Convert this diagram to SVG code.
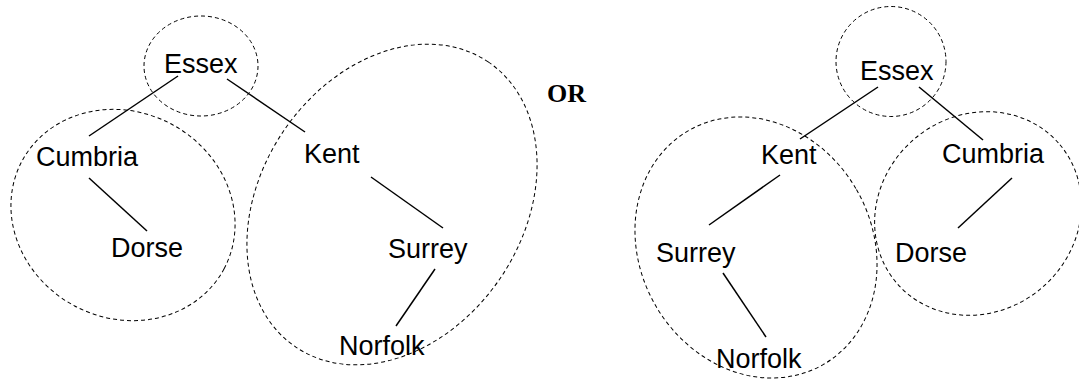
<svg xmlns="http://www.w3.org/2000/svg" width="1079" height="379" viewBox="0 0 1079 379">
  <style>
    .bg { fill: #ffffff; }
    .group { fill: none; stroke: #000; stroke-width: 1; stroke-dasharray: 4 3; }
    .edge { stroke: #000; stroke-width: 1.5; stroke-linecap: butt; }
    .label { font-family: "Liberation Sans", Arial, sans-serif; font-size: 27px; fill: #000; }
    .or { font-family: "Liberation Serif", "Times New Roman", serif; font-size: 26px; font-weight: bold; fill: #000; }
  </style>
  <rect class="bg" x="0" y="0" width="1079" height="379"/>

  <!-- dashed grouping outlines -->
  <g id="groups">
    <ellipse class="group" cx="201" cy="66" rx="57" ry="50"/>
    <ellipse class="group" cx="123" cy="215" rx="114.5" ry="103" transform="rotate(28 123 215)"/>
    <ellipse class="group" cx="392" cy="204.5" rx="172" ry="131" transform="rotate(-56 392 204.5)"/>
    <ellipse class="group" cx="891" cy="61.5" rx="55" ry="55"/>
    <ellipse class="group" cx="756" cy="247.5" rx="116" ry="135" transform="rotate(-30 756 247.5)"/>
    <ellipse class="group" cx="978" cy="213.5" rx="107" ry="98" transform="rotate(-40 978 213.5)"/>
  </g>

  <!-- tree edges -->
  <g id="connectors">
    <line class="edge" x1="178" y1="76" x2="89" y2="136"/>
    <line class="edge" x1="227" y1="79" x2="305" y2="132"/>
    <line class="edge" x1="89" y1="178" x2="147" y2="231"/>
    <line class="edge" x1="371" y1="177" x2="443" y2="228"/>
    <line class="edge" x1="435" y1="269" x2="396" y2="326"/>

    <line class="edge" x1="878" y1="87" x2="800" y2="139"/>
    <line class="edge" x1="919" y1="87" x2="983" y2="140"/>
    <line class="edge" x1="780" y1="175" x2="709" y2="225"/>
    <line class="edge" x1="1012" y1="178" x2="958" y2="228"/>
    <line class="edge" x1="723" y1="273" x2="766" y2="337"/>
  </g>

  <!-- first arrangement -->
  <g id="essex-a"><text class="label" x="164" y="73">Essex</text></g>
  <g id="cumbria-a"><text class="label" x="36" y="166">Cumbria</text></g>
  <g id="kent-a"><text class="label" x="304" y="163">Kent</text></g>
  <g id="dorse-a"><text class="label" x="111" y="257">Dorse</text></g>
  <g id="surrey-a"><text class="label" x="388" y="258">Surrey</text></g>
  <g id="norfolk-a"><text class="label" x="339" y="355">Norfolk</text></g>

  <g id="or"><text class="or" x="547" y="102">OR</text></g>

  <!-- second arrangement -->
  <g id="essex-b"><text class="label" x="860" y="80">Essex</text></g>
  <g id="kent-b"><text class="label" x="761" y="164">Kent</text></g>
  <g id="cumbria-b"><text class="label" x="942" y="163">Cumbria</text></g>
  <g id="surrey-b"><text class="label" x="656" y="262">Surrey</text></g>
  <g id="dorse-b"><text class="label" x="895" y="262">Dorse</text></g>
  <g id="norfolk-b"><text class="label" x="716" y="368">Norfolk</text></g>
</svg>
